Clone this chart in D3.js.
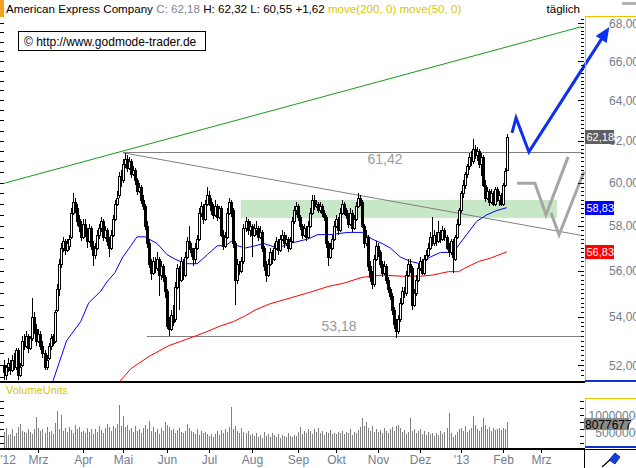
<!DOCTYPE html>
<html><head><meta charset="utf-8">
<script src="https://cdn.jsdelivr.net/npm/d3@7"></script>
<style>
body{margin:0;background:#fff;}
svg{display:block;font-family:"Liberation Sans",Arial,sans-serif;}
text{white-space:pre;}
</style>
</head><body>
<svg id="c" width="636" height="468"></svg>
<script>
// ---------- DATA ----------
const title = "American Express Company";
// daily candles [open, high, low, close], Feb 6 2012 .. Feb 5 2013 (bar index 0..250)
const candles = [
[52.0,52.2,51.4,51.7],[51.6,52.0,51.4,51.9],[51.9,52.3,51.7,52.1],[52.1,52.2,51.6,51.8],[51.8,52.4,51.7,52.2],
[52.2,52.5,51.8,52.0],[51.9,52.7,51.8,52.6],[52.6,52.7,51.4,51.6],[51.6,52.1,51.5,51.9],[52.0,53.2,51.9,53.0],
[53.0,53.3,52.6,52.8],[52.8,53.4,52.7,53.2],[53.2,53.3,52.5,52.7],[52.7,53.2,52.6,53.1],[53.1,54.8,53.0,54.0],
[54.0,54.2,53.3,53.5],[53.5,53.7,52.8,53.0],[53.0,53.5,52.9,53.3],[53.3,53.4,52.6,52.8],[52.8,53.0,52.3,52.5],
[52.5,52.6,51.8,51.9],[51.9,52.4,51.8,52.2],[52.3,52.9,52.2,52.8],[52.8,53.3,52.6,53.1],[53.2,53.3,52.8,52.9],
[53.0,54.3,52.9,54.2],[54.3,55.4,54.2,55.2],[55.2,56.5,54.9,56.3],[56.3,57.2,56.1,57.0],[57.0,57.5,56.8,57.3],
[57.3,57.4,56.7,56.9],[56.9,57.4,56.8,57.2],[57.1,57.6,56.9,57.4],[57.5,58.8,57.4,58.6],[58.6,59.5,58.5,59.1],
[59.1,59.3,58.6,58.8],[58.8,59.0,58.0,58.2],[58.3,58.5,57.7,58.0],[58.0,58.2,57.3,57.5],[57.5,58.3,57.4,58.1],
[58.1,58.3,57.5,57.7],[57.7,57.9,57.0,57.3],[57.3,58.1,57.2,57.9],[57.9,58.0,56.9,57.1],[57.1,57.3,56.2,56.7],
[56.7,57.2,56.5,57.0],[57.0,57.8,56.9,57.6],[57.6,58.1,57.4,57.9],[57.9,58.4,57.7,58.2],[58.2,58.3,57.3,57.5],
[57.5,58.0,57.4,57.8],[57.8,57.9,57.1,57.3],[57.3,57.5,56.6,57.0],[57.0,57.8,56.9,57.6],[57.6,58.5,57.5,58.3],
[58.3,59.2,58.2,59.0],[59.0,59.6,58.9,59.3],[59.4,60.5,59.3,60.3],[60.3,60.6,59.8,60.1],[60.1,61.1,60.0,60.9],
[60.9,61.42,60.7,61.1],[61.1,61.3,60.5,60.7],[60.7,61.2,60.6,61.0],[61.0,61.1,60.2,60.4],[60.4,60.8,60.3,60.6],
[60.6,60.7,59.9,60.1],[60.1,60.2,59.4,59.6],[59.6,60.0,59.5,59.8],[59.8,59.9,59.0,59.2],[59.2,59.4,58.7,58.9],
[58.9,59.0,57.8,58.0],[58.0,58.2,57.0,57.2],[57.2,57.4,56.1,56.3],[56.3,56.5,55.6,55.9],[55.9,56.6,55.8,56.4],
[56.4,56.6,55.9,56.1],[56.1,56.8,56.0,56.5],[56.5,56.6,54.9,55.8],[55.8,56.4,55.6,56.2],[56.2,56.3,55.5,55.7],
[55.7,55.8,54.8,55.1],[55.1,55.2,53.5,53.6],[53.6,54.0,53.18,53.5],[53.5,54.3,53.4,54.1],[54.1,54.5,53.6,53.8],
[53.9,55.5,53.8,55.3],[55.3,56.3,55.2,56.1],[56.1,56.2,54.3,55.6],[55.6,56.6,55.5,56.4],[56.4,56.5,55.6,55.8],
[55.8,56.8,55.7,56.6],[56.6,57.5,56.5,57.3],[57.3,58.0,56.9,57.0],[57.0,57.2,56.6,56.8],[56.8,57.0,56.2,56.5],
[56.5,57.2,56.3,57.0],[57.0,57.6,56.9,57.4],[57.4,58.8,57.3,58.6],[58.6,59.1,58.4,58.9],[58.9,59.0,58.1,58.3],
[58.3,59.2,58.2,59.0],[59.0,59.8,58.9,59.4],[59.4,59.6,58.9,59.1],[59.1,59.3,58.5,58.7],[58.7,59.0,58.3,58.5],
[58.5,59.2,58.4,58.9],[58.9,59.0,58.2,58.4],[58.4,58.9,58.3,58.8],[58.8,58.9,57.5,57.6],[57.6,57.8,56.9,57.1],
[57.1,57.7,57.0,57.5],[57.5,58.8,57.4,58.6],[58.6,59.3,58.5,59.1],[59.1,59.2,58.4,58.7],[58.7,58.8,57.0,57.2],
[57.2,57.3,54.5,55.6],[55.6,56.5,55.4,56.3],[56.3,56.4,55.8,56.0],[56.0,56.6,55.9,56.4],[56.4,58.1,56.3,57.9],
[57.9,58.4,57.7,58.2],[58.2,58.3,57.6,57.8],[57.8,58.2,57.5,58.0],[58.0,58.1,56.6,57.6],[57.6,58.1,57.5,57.9],
[57.8,58.2,57.6,57.9],[57.9,58.0,57.3,57.5],[57.5,58.0,57.4,57.7],[57.7,57.8,56.8,57.0],[57.0,57.1,56.0,56.2],
[56.2,56.4,55.5,55.8],[55.8,56.5,55.7,56.3],[56.3,57.0,56.2,56.8],[56.8,56.9,56.3,56.5],[56.5,57.2,56.4,57.0],
[57.0,57.5,56.9,57.3],[57.3,57.4,56.7,56.9],[56.9,57.6,56.8,57.4],[57.4,57.8,57.3,57.6],[57.6,57.7,57.0,57.2],
[57.2,57.6,57.1,57.4],[57.4,57.5,56.8,57.0],[57.0,57.5,56.9,57.3],[57.3,58.4,57.2,58.2],[58.2,58.9,58.1,58.7],
[58.7,59.1,58.5,58.9],[58.9,59.0,58.2,58.4],[58.4,58.5,57.8,58.0],[58.0,58.1,57.4,57.6],[57.6,58.1,57.5,57.9],
[57.9,58.0,57.3,57.5],[57.5,58.2,57.4,58.0],[58.0,58.8,57.9,58.6],[58.6,59.4,58.5,59.2],[59.2,59.4,58.7,58.9],
[58.9,59.2,58.8,59.0],[59.0,59.1,58.6,58.7],[58.7,59.1,58.6,58.9],[58.9,59.0,58.4,58.6],[58.6,58.7,58.2,58.4],
[58.4,58.5,57.0,57.2],[57.2,57.3,56.2,56.6],[56.6,57.2,56.5,57.0],[57.0,57.6,56.9,57.4],[57.4,58.2,57.3,58.0],
[58.0,58.5,57.9,58.3],[58.3,58.4,57.6,57.8],[57.8,58.8,57.7,58.6],[58.6,59.2,58.5,59.0],[59.0,59.1,58.5,58.7],
[58.7,58.8,58.3,58.5],[58.5,58.6,57.9,58.1],[58.1,58.8,58.0,58.6],[58.6,58.7,57.7,57.9],[57.9,58.5,57.8,58.3],
[58.3,59.1,58.2,58.9],[58.9,59.5,58.8,59.3],[59.3,59.4,58.9,59.1],[59.1,59.2,57.9,58.0],[58.0,58.1,57.0,57.2],
[57.2,57.8,57.1,57.5],[57.5,57.6,56.0,56.2],[56.2,56.4,55.5,55.7],[55.7,56.0,55.2,55.4],[55.4,56.7,55.3,56.5],
[56.5,57.3,56.4,57.1],[57.1,57.2,56.6,56.8],[56.8,56.9,56.1,56.3],[56.3,56.4,55.7,55.9],[55.9,56.4,55.8,56.2],
[56.2,56.3,55.4,55.6],[55.6,55.7,55.0,55.2],[55.2,55.3,54.7,54.9],[54.9,55.0,54.1,54.3],[54.3,54.4,53.5,53.7],
[53.7,53.9,53.1,53.4],[53.4,54.1,53.3,53.9],[53.9,54.8,53.8,54.6],[54.6,55.3,54.5,55.1],[55.1,55.3,54.8,55.0],
[55.0,56.0,54.9,55.8],[55.8,56.5,55.7,56.3],[56.3,56.5,55.9,56.1],[56.1,56.2,54.3,54.5],[54.5,55.2,54.4,55.0],
[55.0,55.8,54.9,55.6],[55.6,56.3,55.5,56.1],[56.1,56.6,56.0,56.4],[56.4,56.5,55.8,55.9],[55.9,56.7,55.8,56.5],
[56.5,56.9,56.4,56.7],[56.7,57.2,56.6,57.0],[57.0,57.7,56.9,57.5],[57.5,58.4,57.1,57.2],[57.2,57.8,57.1,57.6],
[57.6,57.7,57.1,57.3],[57.3,58.2,57.2,57.7],[57.7,57.8,57.2,57.4],[57.4,58.0,57.3,57.8],[57.8,57.9,57.3,57.5],
[57.5,57.6,56.9,57.0],[57.0,57.2,56.6,56.8],[56.8,57.4,56.7,57.3],[57.3,57.4,55.9,56.6],[56.5,57.6,56.4,57.5],
[57.5,58.3,57.4,58.1],[58.1,58.8,58.0,58.7],[58.7,59.6,58.6,59.5],[59.5,60.1,59.3,59.9],[59.9,60.5,59.7,60.4],
[60.4,60.9,60.2,60.8],[60.8,61.4,60.6,61.2],[61.2,61.5,60.8,61.0],[61.0,62.1,60.9,61.6],[61.6,61.8,61.1,61.3],
[61.3,61.7,61.0,61.5],[61.5,61.6,60.7,60.9],[60.9,61.4,60.3,61.2],[61.2,61.3,59.8,59.9],[59.9,60.1,59.1,59.3],
[59.3,59.8,59.2,59.6],[59.6,59.7,58.9,59.1],[59.1,59.7,59.0,59.5],[59.5,59.6,58.9,59.0],[59.0,59.8,58.9,59.7],
[59.7,59.8,59.1,59.2],[59.2,59.6,58.9,59.4],[59.4,59.5,58.9,59.0],[59.0,60.0,58.9,59.9],[59.9,60.7,59.8,60.56],
[60.6,62.32,60.55,62.18]
];
// daily volume in millions of shares
const volumes = [
5.0,6.2,4.1,4.6,5.8,3.9,4.8,6.6,7.5,5.4,5.1,4.7,5.9,5.2,4.4,6.0,9.4,
6.1,5.3,5.9,4.8,6.4,5.0,5.5,4.6,7.6,11.2,6.0,10.1,5.4,6.2,5.1,6.5,5.7,4.9,7.1,5.8,6.6,5.2,
5.5,4.7,6.3,5.0,5.8,4.4,6.0,5.2,6.8,5.6,4.9,6.1,7.3,6.5,5.3,6.9,6.2,7.4,12.9,6.8,
9.8,6.4,7.0,5.6,6.2,5.1,6.7,5.3,5.9,4.8,6.3,7.2,6.0,8.2,5.4,6.6,5.0,5.9,4.6,6.1,5.3,8.0,
7.2,6.5,5.6,6.0,4.9,5.7,6.3,5.1,4.7,5.5,7.4,6.2,5.3,5.0,4.6,5.8,4.2,5.4,4.8,5.1,4.5,
4.0,4.6,3.7,4.4,5.3,4.1,5.6,4.9,6.0,5.2,6.4,12.3,5.8,6.7,5.5,4.9,6.2,5.1,4.7,5.4,4.3,
4.4,3.8,4.9,3.6,4.2,3.4,5.0,3.9,4.5,3.5,4.8,4.1,3.7,4.6,3.3,4.3,3.9,3.6,4.7,4.0,3.5,4.2,3.8,
5.2,6.5,4.6,5.5,4.9,6.0,5.3,4.4,5.8,5.0,6.2,4.7,5.4,4.3,5.1,4.8,5.6,4.5,4.9,
4.6,5.2,4.8,5.5,4.4,5.0,4.7,5.8,4.3,5.1,4.9,5.6,6.4,9.1,6.9,8.0,6.2,5.5,6.7,5.2,5.9,
5.0,5.6,4.7,6.1,5.3,4.8,5.9,6.5,5.4,6.8,7.0,6.3,5.1,5.7,4.6,5.2,9.2,5.5,6.0,4.9,5.4,
5.8,4.6,5.3,4.2,5.0,4.4,4.9,3.9,4.7,4.1,5.4,4.5,5.1,6.1,10.5,4.8,3.6,4.3,5.2,6.0,
6.2,5.5,6.8,5.0,5.7,6.3,9.8,7.1,6.0,5.4,6.6,9.2,7.0,5.8,6.4,5.3,6.1,5.6,5.9,6.2,5.7,
6.3,6.0,8.077677
];
// moving averages [bar index, value]
const ma50 = [[24,51.3],[31,53.0],[38,53.8],[42,54.6],[48,55.1],[51,55.5],[55,55.9],[59,56.6],[63,57.1],[66,57.5],
[70,57.5],[76,57.2],[81,56.7],[85,56.5],[90,56.3],[96,56.3],[101,56.7],[106,57.1],[110,57.1],[113,57.3],[116,57.1],
[120,57.0],[125,57.1],[129,57.2],[136,57.0],[142,57.2],[151,57.4],[156,57.6],[162,57.6],[171,57.7],[178,57.7],
[183,57.4],[188,57.2],[192,57.0],[197,56.6],[202,56.4],[207,56.3],[212,56.6],[217,56.8],[222,56.8],[225,57.0],
[230,57.6],[235,58.2],[240,58.5],[245,58.7],[250,58.83]];
const ma200 = [[57,51.3],[63,51.85],[72,52.35],[82,52.8],[92,53.1],[100,53.35],[107,53.6],[114,53.8],[120,54.05],
[125,54.3],[132,54.55],[142,54.8],[152,55.05],[161,55.3],[169,55.45],[178,55.7],[188,55.8],[198,55.75],[207,55.75],
[213,55.8],[221,55.95],[226,55.95],[229,56.1],[236,56.4],[242,56.55],[250,56.83]];
// drawn analysis objects [bar index, price]
const upTrend = [[0,59.97],[287,67.8]];
const downTrend = [[59,61.42],[288,57.55]];
const resistance = [[59,61.42],[288,61.42]];
const support = [[71,53.18],[288,53.18]];
const zone = {i0:117.6, i1:275, lo:58.36, hi:59.19};
const forecastBlue = [[252.6,62.38],[254.6,63.12],[261,61.46],[301,67.79]];
const forecastGray1 = [[255.1,59.97],[264.0,59.97],[269.5,58.50],[280.5,61.22]];
const forecastGray2 = [[272,58.59],[276,57.59],[288.4,60.51]];
// axis ticks
const monthIdx = [-3,17,39,59,81,102,123,146,165,186,207,227,248,267];
const monthLabels = ["'12","Mrz","Apr","Mai","Jun","Jul","Aug","Sep","Okt","Nov","Dez","'13","Feb","Mrz"];
const priceTicks = [52,54,56,58,60,62,64,66,68];
const volTicks = [5000000,10000000];

// ---------- CHART ----------
const svg = d3.select("#c");
const x = d3.scaleLinear().domain([0,250]).range([4.3,506.8]);
const y = d3.scaleLog().domain([52,68]).range([365,23]);
const yv = d3.scaleLinear().domain([0,10e6]).range([449.5,415]);
const fmt = v => d3.format(".2f")(v).replace(".",",");
const cx = i => Math.round(x(i));
const FONT = 12, AXC = "#717e8e";

const defs = svg.append("defs");
defs.append("clipPath").attr("id","plot").append("rect").attr("x",0).attr("y",16).attr("width",584).attr("height",365);

// header
svg.append("rect").attr("x",0).attr("y",0).attr("width",4).attr("height",17).attr("fill","#f4a020");
const last = candles[candles.length-1], prev = candles[candles.length-2];
const hdr = svg.append("text").attr("x",6).attr("y",13).attr("font-size",11.6);
hdr.append("tspan").attr("fill","#000").text(title+" ");
hdr.append("tspan").attr("fill","#7d8794").text("C: "+fmt(last[3])+" ");
hdr.append("tspan").attr("fill","#000").text("H: "+fmt(last[1])+" L: "+fmt(last[2])+" +"+fmt(last[3]-prev[3])+" ");
hdr.append("tspan").attr("fill","#d8c800").text("move(200, 0) move(50, 0)");
svg.append("text").attr("x",580).attr("y",13).attr("text-anchor","end").attr("font-size",11.6).attr("fill","#000").text("täglich");
svg.append("rect").attr("x",622).attr("y",2).attr("width",14).attr("height",3).attr("fill","#b4b4b4");

// plot group
const g = svg.append("g").attr("clip-path","url(#plot)");
g.append("rect").attr("x",x(zone.i0)).attr("y",y(zone.hi)).attr("width",x(zone.i1)-x(zone.i0))
  .attr("height",y(zone.lo)-y(zone.hi)).attr("fill","#c6e8c6");
const line = d3.line().x(d=>x(d[0])).y(d=>y(d[1]));
g.append("path").attr("d",line(upTrend)).attr("stroke","#1a9a1a").attr("fill","none").attr("stroke-width",1);
g.append("path").attr("d",line(downTrend)).attr("stroke","#808080").attr("fill","none").attr("stroke-width",1);
g.append("path").attr("d",line(resistance)).attr("stroke","#808080").attr("fill","none").attr("stroke-width",1).attr("shape-rendering","crispEdges");
g.append("path").attr("d",line(support)).attr("stroke","#808080").attr("fill","none").attr("stroke-width",1).attr("shape-rendering","crispEdges");
g.append("path").attr("d",line(ma200)).attr("stroke","#ff0000").attr("fill","none").attr("stroke-width",1);
g.append("path").attr("d",line(ma50)).attr("stroke","#0000ff").attr("fill","none").attr("stroke-width",1);

// candles
const cg = g.append("g").attr("shape-rendering","crispEdges");
cg.selectAll("line.w").data(candles).join("line").attr("class","w")
  .attr("x1",(d,i)=>cx(i)+0.5).attr("x2",(d,i)=>cx(i)+0.5)
  .attr("y1",d=>y(d[1])).attr("y2",d=>y(d[2])).attr("stroke","#000");
cg.selectAll("rect.b").data(candles).join("rect").attr("class","b")
  .attr("x",(d,i)=>cx(i)-0.5)
  .attr("y",d=>Math.round(y(Math.max(d[0],d[3])))+0.5)
  .attr("width",2)
  .attr("height",d=>Math.max(1,Math.round(y(Math.min(d[0],d[3])))-Math.round(y(Math.max(d[0],d[3])))))
  .attr("fill",d=>d[3]>=d[0]?"#fff":"#000").attr("stroke","#000");

// level labels
svg.append("text").attr("x",385).attr("y",y(61.42)+11).attr("text-anchor","middle").attr("font-size",14).attr("fill","#9a9a9a").text(fmt(resistance[0][1]));
svg.append("text").attr("x",339).attr("y",y(53.18)-5).attr("text-anchor","middle").attr("font-size",14).attr("fill","#9a9a9a").text(fmt(support[0][1]));

// forecast strokes
const fl = d3.line().x(d=>x(d[0])).y(d=>y(d[1]));
svg.append("path").attr("d",fl(forecastGray1)).attr("stroke","#a6a6a6").attr("stroke-width",3).attr("fill","none").attr("stroke-linejoin","miter");
svg.append("path").attr("d",fl(forecastGray2)).attr("stroke","#a6a6a6").attr("stroke-width",3).attr("fill","none").attr("stroke-linejoin","miter");
{
  const pts = forecastBlue.map(d=>[x(d[0]),y(d[1])]);
  const T = pts[pts.length-1], P = pts[pts.length-2];
  const dx=T[0]-P[0], dy=T[1]-P[1], L=Math.hypot(dx,dy), ux=dx/L, uy=dy/L;
  const hl=15, hw=6.5, B=[T[0]-ux*hl, T[1]-uy*hl];
  const body = pts.slice(0,-1).concat([[B[0]+ux*2,B[1]+uy*2]]);
  svg.append("path").attr("d",d3.line()(body)).attr("stroke","#0d2ff0").attr("stroke-width",3).attr("fill","none");
  svg.append("path").attr("d",d3.line()([T,[B[0]-uy*hw,B[1]+ux*hw],[B[0]+uy*hw,B[1]-ux*hw]])+"Z").attr("fill","#0d2ff0");
}

// copyright box
svg.append("rect").attr("x",18.5).attr("y",31.5).attr("width",187).attr("height",19).attr("fill","#fff").attr("stroke","#000");
svg.append("text").attr("x",24).attr("y",45.5).attr("font-size",FONT).attr("fill","#000").text("\u00A9 http://www.godmode-trader.de");

// left ticks
const lt = svg.append("g").attr("shape-rendering","crispEdges").attr("stroke","#000");
for(let v=51.5; v<=68.01; v+=0.5){ const yy=Math.round(y(v))+0.5; if(yy>17&&yy<380) lt.append("line").attr("x1",0).attr("x2",4).attr("y1",yy).attr("y2",yy); }
for(let v=0; v<=14e6; v+=2e6){ const yy=Math.round(yv(v))+0.5; if(yy>397&&yy<448) { lt.append("line").attr("x1",0).attr("x2",4).attr("y1",yy).attr("y2",yy); lt.append("line").attr("x1",580).attr("x2",584).attr("y1",yy).attr("y2",yy);} }

// right price axis panel
const ra = svg.append("g").attr("shape-rendering","crispEdges");
for(let k=0;k<=90;k++){ const v=51.4+k*0.2; const yy=Math.round(y(v))+0.5; if(yy<17||yy>380) continue;
  const major = Math.abs(v-Math.round(v))<0.01 && Math.round(v)%2===0;
  ra.append("line").attr("x1",major?578:581).attr("x2",584).attr("y1",yy).attr("y2",yy).attr("stroke","#000"); }
ra.append("line").attr("x1",585.5).attr("x2",585.5).attr("y1",16).attr("y2",380).attr("stroke","#f0c000");
ra.append("line").attr("x1",585).attr("x2",636).attr("y1",16.5).attr("y2",16.5).attr("stroke","#f0c000");
ra.append("rect").attr("x",585).attr("y",380).attr("width",51).attr("height",2).attr("fill","#1030d0");
priceTicks.forEach(v=>svg.append("text").attr("x",639).attr("y",y(v)+4.5).attr("text-anchor","end").attr("font-size",FONT).attr("fill",AXC).text(fmt(v)));
function tag(v,bg,fg){
  const yy=Math.round(y(v));
  svg.append("rect").attr("x",585).attr("y",yy-7).attr("width",29).attr("height",14).attr("fill",bg);
  svg.append("text").attr("x",586.5).attr("y",yy+4).attr("font-size",11).attr("fill",fg).text(fmt(v));
}
tag(last[3],"#5f5f5f","#fff");
tag(ma50[ma50.length-1][1],"#0000ff","#fff");
tag(ma200[ma200.length-1][1],"#ff0000","#fff");

// panel separators
svg.append("rect").attr("x",0).attr("y",381).attr("width",585).attr("height",2).attr("fill","#000");

// volume panel
svg.append("text").attr("x",6).attr("y",394).attr("font-size",11).attr("fill","#d8c800").text("VolumeUnits");
svg.append("g").attr("shape-rendering","crispEdges").selectAll("line").data(volumes).join("line")
  .attr("x1",(d,i)=>cx(i)+0.5).attr("x2",(d,i)=>cx(i)+0.5)
  .attr("y1",yv(0)).attr("y2",d=>yv(d*1e6)).attr("stroke","#808080");
const vr = svg.append("g").attr("shape-rendering","crispEdges");
vr.append("line").attr("x1",585.5).attr("x2",585.5).attr("y1",398).attr("y2",447).attr("stroke","#f0c000");
vr.append("line").attr("x1",585).attr("x2",636).attr("y1",398.5).attr("y2",398.5).attr("stroke","#f0c000");
vr.append("rect").attr("x",585).attr("y",446).attr("width",51).attr("height",2).attr("fill","#1030d0");
volTicks.forEach(v=>svg.append("text").attr("x",642).attr("y",yv(v)+4.5).attr("text-anchor","end").attr("font-size",FONT).attr("fill",AXC).text(String(v)));
{
  const lv = volumes[volumes.length-1]*1e6, yy=Math.round(yv(lv))+2;
  svg.append("rect").attr("x",584).attr("y",yy-6).attr("width",45).attr("height",12).attr("fill","#8a8a8a");
  svg.append("text").attr("x",585).attr("y",yy+4.5).attr("font-size",FONT).attr("fill","#000").text(String(Math.round(lv)));
}

// date axis
svg.append("rect").attr("x",0).attr("y",448).attr("width",585).attr("height",2).attr("fill","#000");
const da = svg.append("g").attr("shape-rendering","crispEdges");
monthIdx.forEach((m,k)=>{
  const xx = Math.round(x(m))+0.5;
  if(xx>0) da.append("line").attr("x1",xx).attr("x2",xx).attr("y1",450).attr("y2",453).attr("stroke","#000");
  svg.append("text").attr("x",Math.max(xx,8)).attr("y",464).attr("text-anchor","middle").attr("font-size",FONT).attr("fill",AXC).text(monthLabels[k]);
});
// corner button
svg.append("rect").attr("x",584.5).attr("y",449.5).attr("width",52).attr("height",19).attr("fill","#fff").attr("stroke","#000");
svg.append("line").attr("x1",602).attr("y1",467).attr("x2",612).attr("y2",458).attr("stroke","#000").attr("stroke-width",1.2);
svg.append("path").attr("d","M609,460 L615,453 L620,457 L615,464 Z").attr("fill","#1040e0").attr("stroke","#0a1f80").attr("stroke-width",0.8);
</script>
</body></html>
